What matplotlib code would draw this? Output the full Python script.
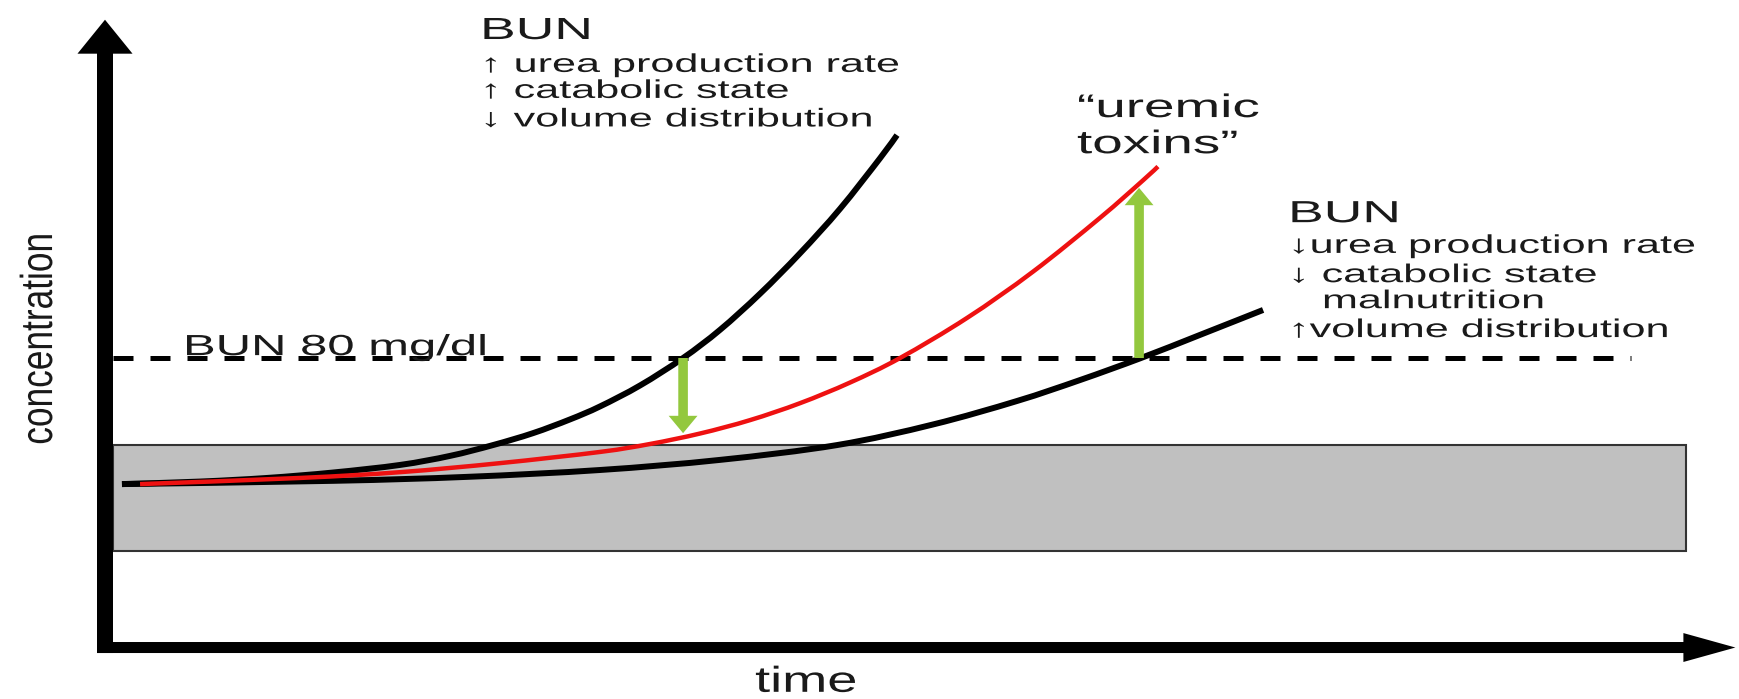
import matplotlib
matplotlib.use("Agg")
import matplotlib.pyplot as plt
from matplotlib.patches import FancyArrow, Rectangle, PathPatch
from matplotlib.path import Path
from matplotlib.patheffects import AbstractPathEffect
from matplotlib.transforms import Affine2D

# values: time in arbitrary units, concentration in mg/dl
fast_time = [1.06, 5.94, 10.13, 14.25, 18.44, 21.56, 24.25, 26.75, 29.06, 30.94, 33.44,
             36.13, 38.44, 40.94, 43.44, 45.94, 48.44, 49.5]
fast_conc = [45.1, 45.8, 46.8, 48.3, 50.4, 52.9, 55.9, 59.2, 63.0, 66.6, 72.4,
             80.0, 87.8, 97.8, 109.0, 121.3, 135.3, 141.7]

toxin_time = [2.19, 12.19, 18.44, 24.69, 30.94, 34.06, 37.19, 40.31, 43.44, 46.56, 49.69,
              53.88, 58.0, 62.19, 64.88, 65.81]
toxin_conc = [45.1, 46.8, 48.4, 50.9, 54.0, 56.2, 59.1, 62.8, 67.5, 73.2, 80.0,
              91.1, 103.9, 118.8, 129.2, 133.0]

slow_time = [1.06, 14.25, 22.63, 30.94, 38.44, 45.75, 51.75, 57.0, 60.94, 64.75, 68.44, 72.38]
slow_conc = [45.1, 46.0, 47.1, 49.0, 51.8, 55.9, 61.6, 68.1, 73.9, 80.0, 86.4, 93.3]

normal_range = [26.6, 55.9]
threshold = 80
threshold_label = "BUN 80 mg/dl"
gap_down = [36.13, 80, 59.2]     # time, from, to
gap_up = [64.63, 80, 127.1]

high_lines = ["BUN", "\u2191 urea production rate", "\u2191 catabolic state", "\u2193 volume distribution"]
low_lines = ["BUN", "\u2193urea production rate", "\u2193 catabolic state", "malnutrition", "\u2191volume distribution"]
toxin_lines = ["\u201curemic", "toxins\u201d"]


class Stretch(AbstractPathEffect):
    # widen the glyphs horizontally, as in the (stretched) original figure
    def __init__(self, sx):
        super().__init__()
        self.sx = sx

    def draw_path(self, renderer, gc, tpath, affine, rgbFace=None):
        x0 = affine.get_matrix()[0, 2]
        affine = affine + Affine2D().translate(-x0, 0).scale(self.sx, 1).translate(x0, 0)
        renderer.draw_path(gc, tpath, affine, rgbFace)


def smooth(xs, ys):
    # catmull-rom through the read points, drawn as bezier segments
    pts = list(zip(xs, ys))
    verts = [pts[0]]
    codes = [Path.MOVETO]
    for i in range(len(pts) - 1):
        p0 = pts[max(i - 1, 0)]
        p1 = pts[i]
        p2 = pts[i + 1]
        p3 = pts[min(i + 2, len(pts) - 1)]
        c1 = (p1[0] + (p2[0] - p0[0]) / 6, p1[1] + (p2[1] - p0[1]) / 6)
        c2 = (p2[0] - (p3[0] - p1[0]) / 6, p2[1] - (p3[1] - p1[1]) / 6)
        verts += [c1, c2, p2]
        codes += [Path.CURVE4] * 3
    return Path(verts, codes)


FONT = ["Liberation Sans", "DejaVu Sans"]
TXT = "#1a1a1a"

fig = plt.figure(figsize=(17.39, 6.99), dpi=100)
ax = fig.add_axes([0, 0, 1, 1])
ax.set_xlim(-6.5625, 102.125)
ax.set_ylim(-14.39, 179.1)
ax.axis("off")


def label(t, c, s, size, sx=1.68, **kw):
    ax.text(t, c, s, fontsize=size, family=FONT, color=TXT, ha="left", va="baseline",
            path_effects=[Stretch(sx)], **kw)


# normal range band
ax.add_patch(Rectangle((0.5, normal_range[0]), 98.3, normal_range[1] - normal_range[0],
                       facecolor="#c0c0c0", edgecolor="#333333", linewidth=1.5, zorder=1))

# threshold line
ax.plot([0.5, 95.4], [threshold, threshold], color="black", linewidth=3.6,
        linestyle=(0, (4, 3.4)), zorder=2)

for xs, ys, col, lw, z in [(slow_time, slow_conc, "black", 4.3, 3),
                           (fast_time, fast_conc, "black", 4.3, 3),
                           (toxin_time, toxin_conc, "#ee1111", 3.2, 4)]:
    ax.add_patch(PathPatch(smooth(xs, ys), fill=False, edgecolor=col, linewidth=lw,
                           capstyle="butt", zorder=z))

green = "#93c83e"
for t, c0, c1 in [gap_down, gap_up]:
    ax.add_patch(FancyArrow(t, c0, 0, c1 - c0, width=0.6, head_width=1.8, head_length=4.8,
                            length_includes_head=True, color=green, linewidth=0, zorder=5))

# axes arrows
ax.add_patch(FancyArrow(0, -1.66, 0, 175.3, width=1.0, head_width=3.44, head_length=9.4,
                        length_includes_head=True, color="black", linewidth=0, zorder=6))
ax.add_patch(FancyArrow(-0.5, -0.14, 102.4, 0, width=3.05, head_width=8.0, head_length=3.25,
                        length_includes_head=True, color="black", linewidth=0, zorder=6))

# text
label(4.875, 80.8, threshold_label, 21)

label(23.44, 168.3, high_lines[0], 22, sx=1.75)
for s, c in zip(high_lines[1:], [159.2, 152.0, 144.1]):
    label(23.44, c, s, 18.5)

label(73.94, 117.6, low_lines[0], 22, sx=1.75)
label(73.94, 109.1, low_lines[1], 18.5)
label(73.94, 101.0, low_lines[2], 18.5)
label(76.06, 93.8, low_lines[3], 18.5)
label(73.94, 85.8, low_lines[4], 18.5)

label(60.75, 146.7, toxin_lines[0], 23.5)
label(60.75, 136.7, toxin_lines[1], 23.5)

ax.text(-3.31, 56.0, "concentration", fontsize=25.4, family=FONT, color=TXT, rotation=90,
        rotation_mode="anchor", ha="left", va="baseline", path_effects=[Stretch(1.27)])
label(40.63, -12.4, "time", 26, sx=1.5)

fig.savefig("out.png", dpi=100)
